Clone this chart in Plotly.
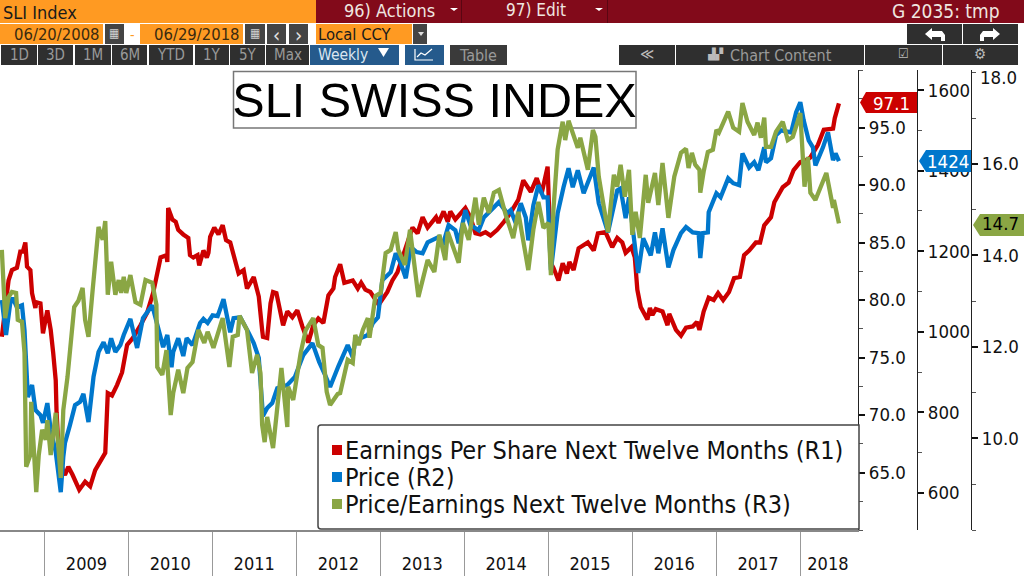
import pandas as pd
import plotly.graph_objects as go

eps_years = [2008.49,2008.54,2008.57,2008.61,2008.67,2008.71,2008.74,2008.77,2008.79,2008.83,2008.85,2008.89,2008.90,2008.95,2008.98,
2009.03,2009.07,2009.10,2009.13,2009.14,2009.16,2009.19,2009.22,2009.24,2009.28,2009.33,2009.41,2009.48,2009.54,2009.60,2009.72,2009.75,2009.80,2009.86,2009.92,2009.98,
2010.05,2010.14,2010.22,2010.29,2010.38,2010.45,2010.46,2010.47,2010.52,2010.56,2010.59,2010.65,2010.71,2010.73,2010.77,2010.82,2010.84,2010.89,2010.93,2010.95,2010.97,
2011.02,2011.07,2011.12,2011.16,2011.21,2011.25,2011.31,2011.37,2011.41,2011.49,2011.55,2011.59,2011.60,2011.65,2011.69,2011.72,2011.76,2011.84,2011.89,2011.95,
2012.01,2012.07,2012.14,2012.20,2012.26,2012.32,2012.38,2012.44,2012.46,2012.52,2012.57,2012.67,2012.73,2012.77,2012.82,2012.88,2012.92,2012.98,
2013.08,2013.14,2013.20,2013.27,2013.33,2013.38,2013.44,2013.50,2013.56,2013.66,2013.69,2013.75,2013.80,2013.83,2013.89,
2014.01,2014.07,2014.13,2014.19,2014.25,2014.31,2014.39,2014.47,2014.55,2014.64,2014.70,2014.79,2014.86,2014.92,2014.99,
2015.00,2015.03,2015.06,2015.12,2015.17,2015.22,2015.25,2015.30,2015.36,2015.47,2015.54,2015.59,2015.68,2015.76,2015.82,2015.88,2015.92,2015.99,
2016.03,2016.06,2016.10,2016.18,2016.21,2016.24,2016.28,2016.36,2016.42,2016.44,2016.52,2016.58,2016.64,2016.72,2016.77,2016.80,2016.85,2016.91,2016.97,
2017.02,2017.08,2017.15,2017.21,2017.28,2017.33,2017.39,2017.47,2017.52,2017.57,2017.65,2017.69,2017.79,2017.86,2017.92,
2018.00,2018.08,2018.12,2018.21,2018.28,2018.39,2018.41,2018.46]
eps_values = [76.8,80.0,81.7,82.6,82.8,84.2,84.2,85.0,82.9,82.6,80.6,79.3,79.8,79.7,77.1,
79.1,77.4,75.4,73.0,70.2,67.6,66.1,65.0,64.8,65.5,64.8,63.5,64.2,63.8,65.2,66.7,71.9,71.7,72.6,73.7,76.1,
76.7,77.8,78.9,80.6,83.7,83.9,83.3,88.0,87.0,86.8,86.1,85.7,85.4,83.9,83.7,83.9,83.0,84.3,83.7,84.1,85.5,
86.3,85.7,86.5,85.2,85.0,83.9,82.3,82.6,81.0,82.0,80.3,77.4,76.8,76.7,79.7,80.7,80.6,77.8,79.0,78.5,
79.1,77.7,76.3,77.8,78.4,78.0,80.4,81.0,82.0,83.1,81.5,81.7,81.0,81.5,80.9,80.7,80.2,79.6,
80.7,81.7,82.4,83.9,85.2,86.3,85.8,87.2,86.3,87.2,86.7,87.7,86.8,87.7,87.0,
88.0,87.2,85.8,85.7,85.9,85.6,86.1,86.8,87.6,88.7,90.4,89.4,90.6,89.3,91.6,
89.6,83.2,82.8,81.7,83.2,82.3,83.3,82.6,84.5,85.0,84.3,85.8,85.9,84.6,85.4,85.0,84.1,84.6,
83.7,80.9,79.4,78.3,79.3,78.7,79.2,79.0,77.8,78.8,77.4,76.9,77.6,77.7,78.1,77.4,79.0,80.2,80.0,
80.6,80.0,80.7,81.9,82.0,83.9,84.3,85.0,85.0,86.5,87.2,88.5,89.8,90.2,91.3,
92.0,92.2,92.4,93.5,94.8,94.9,95.8,97.1]

price_years = [2008.49,2008.54,2008.59,2008.62,2008.67,2008.73,2008.76,2008.79,2008.80,2008.85,2008.89,2008.95,2008.98,
2009.03,2009.07,2009.13,2009.16,2009.19,2009.22,2009.24,2009.30,2009.36,2009.42,2009.46,2009.52,2009.58,2009.64,2009.70,2009.75,2009.79,2009.84,2009.90,2009.94,
2010.02,2010.10,2010.17,2010.28,2010.34,2010.38,2010.41,2010.46,2010.51,2010.53,2010.59,2010.65,2010.69,2010.76,2010.85,2010.89,2010.94,
2011.00,2011.06,2011.13,2011.21,2011.25,2011.33,2011.43,2011.49,2011.55,2011.57,2011.60,2011.65,2011.71,2011.77,2011.89,2011.98,
2012.08,2012.19,2012.27,2012.34,2012.40,2012.50,2012.61,2012.67,2012.70,2012.85,2012.91,2012.97,
2013.02,2013.12,2013.18,2013.24,2013.30,2013.36,2013.43,2013.50,2013.56,2013.69,2013.74,2013.81,2013.89,2013.93,
2014.01,2014.07,2014.17,2014.23,2014.35,2014.41,2014.51,2014.55,2014.61,2014.67,2014.73,2014.76,2014.82,2014.88,2014.94,2014.99,
2015.03,2015.06,2015.11,2015.18,2015.24,2015.29,2015.35,2015.42,2015.54,2015.60,2015.66,2015.71,2015.76,2015.82,2015.86,2015.92,2015.96,
2016.02,2016.07,2016.13,2016.22,2016.27,2016.31,2016.36,2016.43,2016.49,2016.58,2016.64,2016.72,2016.79,2016.81,2016.84,2016.90,2016.91,
2017.00,2017.05,2017.14,2017.20,2017.27,2017.31,2017.39,2017.45,2017.50,2017.57,2017.59,2017.65,2017.71,2017.77,2017.89,2017.95,
2018.00,2018.04,2018.10,2018.15,2018.18,2018.27,2018.33,2018.39,2018.42,2018.46]
price_values = [1079,992,1071,1084,1061,1066,1004,905,838,868,806,793,774,
823,756,702,657,602,689,724,769,818,826,846,776,888,950,974,947,984,950,967,992,
1032,960,1034,1066,1017,987,962,992,912,950,984,940,984,967,1022,1032,1022,
1041,1039,1081,999,1034,1036,997,972,935,868,791,811,823,860,868,888,
942,972,925,893,863,915,967,937,979,992,1022,1036,
1128,1148,1195,1170,1133,1210,1198,1195,1222,1235,1215,1265,1252,1220,
1302,1265,1252,1284,1309,1322,1294,1302,1270,1319,1284,1227,1314,1364,1334,1334,
1153,1215,1294,1359,1406,1359,1401,1344,1408,1319,1284,1247,1294,1351,1356,1282,1334,
1220,1146,1232,1190,1247,1195,1257,1160,1203,1245,1260,1247,1245,1183,1245,1247,1297,
1344,1334,1381,1369,1364,1443,1408,1421,1401,1458,1421,1431,1488,1500,1495,1545,
1570,1525,1475,1458,1413,1458,1495,1426,1443,1424]

pe_years = [2008.49,2008.53,2008.57,2008.61,2008.66,2008.68,2008.73,2008.76,2008.78,2008.83,2008.84,2008.90,2008.93,2008.97,
2009.01,2009.03,2009.07,2009.13,2009.19,2009.22,2009.27,2009.30,2009.35,2009.40,2009.45,2009.48,2009.52,2009.57,2009.60,2009.64,2009.69,2009.72,2009.75,2009.79,2009.84,2009.88,2009.91,2009.94,2009.97,
2010.02,2010.08,2010.14,2010.20,2010.28,2010.33,2010.34,2010.40,2010.45,2010.50,2010.53,2010.59,2010.65,2010.70,2010.76,2010.83,2010.90,2010.94,
2011.01,2011.12,2011.20,2011.24,2011.30,2011.32,2011.41,2011.47,2011.53,2011.57,2011.59,2011.62,2011.65,2011.72,2011.82,2011.89,2011.90,2011.96,
2012.05,2012.11,2012.20,2012.26,2012.31,2012.36,2012.40,2012.49,2012.52,2012.61,2012.67,2012.70,2012.74,2012.79,2012.85,2012.87,2012.94,
2013.00,2013.06,2013.12,2013.18,2013.21,2013.29,2013.35,2013.45,2013.56,2013.64,2013.70,2013.77,2013.80,2013.93,2013.98,
2014.05,2014.13,2014.17,2014.23,2014.29,2014.35,2014.41,2014.49,2014.58,2014.64,2014.76,2014.82,2014.88,2014.94,
2015.00,2015.03,2015.06,2015.11,2015.17,2015.20,2015.24,2015.35,2015.38,2015.47,2015.53,2015.56,2015.60,2015.65,2015.71,2015.78,2015.82,2015.86,2015.91,2015.96,
2016.00,2016.04,2016.09,2016.16,2016.19,2016.27,2016.31,2016.36,2016.43,2016.50,2016.58,2016.64,2016.67,2016.71,2016.75,2016.80,2016.81,2016.85,2016.90,2016.96,
2017.00,2017.03,2017.14,2017.20,2017.27,2017.31,2017.37,2017.45,2017.49,2017.53,2017.57,2017.59,2017.65,2017.71,2017.79,2017.85,2017.91,
2018.00,2018.05,2018.09,2018.12,2018.18,2018.24,2018.31,2018.39,2018.40,2018.46]
pe_values = [14.12,12.63,13.09,13.20,13.18,12.59,12.55,11.87,9.38,9.64,10.80,8.83,9.64,10.19,
9.97,10.40,9.64,10.56,9.14,10.62,11.34,11.89,12.87,13.01,13.29,12.59,12.22,13.25,13.95,14.62,14.34,14.75,13.14,13.86,13.14,13.46,13.18,13.53,13.18,
13.57,12.98,12.92,13.46,13.40,12.92,11.56,11.39,11.93,10.51,10.99,11.50,10.99,11.54,11.67,12.37,12.09,12.33,
11.98,12.63,11.56,12.22,12.26,12.68,12.37,11.43,11.83,11.43,10.30,9.92,10.47,9.79,11.54,10.25,11.13,10.84,
11.87,12.37,12.63,12.04,11.98,11.02,10.73,10.97,10.99,11.72,11.65,12.26,12.04,12.37,12.63,12.20,13.11,
13.18,14.05,14.12,14.51,14.12,13.79,14.56,13.09,13.90,13.64,14.45,13.90,14.51,13.84,14.71,
14.34,15.26,14.67,15.26,14.93,15.37,15.43,14.89,14.38,14.95,13.68,14.56,15.17,14.60,
14.71,13.57,15.00,16.31,16.92,16.52,16.94,16.35,16.57,15.87,16.74,16.59,15.72,15.17,14.51,15.76,15.50,15.98,15.28,15.87,
14.45,14.95,14.38,15.76,15.15,15.80,15.10,16.02,14.82,15.72,16.24,16.33,15.91,16.24,15.98,15.87,15.37,15.83,16.26,16.31,
16.74,16.68,17.14,16.79,16.70,17.33,16.92,16.63,16.90,16.57,17.01,16.37,16.37,16.70,16.92,16.52,16.59,
17.11,15.50,16.15,15.37,15.21,15.50,15.80,15.04,15.21,14.70]

year_labels = ["2009","2010","2011","2012","2013","2014","2015","2016","2017","2018"]
year_mids = ["2009-07-01","2010-07-01","2011-07-01","2012-07-01","2013-07-01","2014-07-01","2015-07-01","2016-07-01","2017-07-01","2018-05-01"]
r1_ticks = [65,70,75,80,85,90,95]
r2_ticks = [600,800,1000,1200,1400,1600]
r3_ticks = [10,12,14,16]
series_names = ["Earnings Per Share Next Twelve Months (R1)","Price (R2)","Price/Earnings Next Twelve Months (R3)"]

W, H = 1024, 580
RED, BLUE, GREEN = "#cc0000", "#0077cc", "#8aa644"
ORANGE, MAROON, DARK = "#ff9a22", "#820a1a", "#2f2f2f"
COND = "DejaVu Sans Condensed"

def to_dates(years):
    return [pd.Timestamp(year=int(v), month=1, day=1) + pd.Timedelta(days=(v - int(v)) * 365.25) for v in years]
def px(x): return x / W
def py(y): return 1 - y / H

shapes, annos = [], []
def rect(x0, y0, x1, y1, fill, line=None, lw=1, layer="above"):
    shapes.append(dict(type="rect", xref="paper", yref="paper", x0=px(x0), x1=px(x1), y0=py(y0), y1=py(y1),
                       fillcolor=fill, line=dict(color=line or fill, width=lw if line else 0), layer=layer))
def text(x, y, s, size=16, color="#000000", anchor="center", font=COND):
    annos.append(dict(xref="paper", yref="paper", x=px(x), y=py(y), text=s, showarrow=False, xanchor=anchor,
                      yanchor="middle", font=dict(size=size, color=color, family=font), borderpad=0))
def poly(points, fill):
    path = "M " + " L ".join(f"{px(a):.5f},{py(b):.5f}" for a, b in points) + " Z"
    shapes.append(dict(type="path", xref="paper", yref="paper", path=path, fillcolor=fill, line=dict(width=0), layer="above"))
def polyline(points, color, w=1.2):
    path = "M " + " L ".join(f"{px(a):.5f},{py(b):.5f}" for a, b in points)
    shapes.append(dict(type="path", xref="paper", yref="paper", path=path, line=dict(color=color, width=w), layer="above"))

# top bar
rect(0, 0, 316, 23, ORANGE)
rect(316, 0, 1024, 23, MAROON)
rect(461, 0, 462, 23, "#5a0612")
rect(607, 0, 608, 23, "#5a0612")
text(2, 12, "SLI Index", 18, "#1a1a1a", "left")
text(436, 10, "96) Actions", 18, "#f0e6e0", "right")
text(567, 10, "97) Edit", 17, "#f0e6e0", "right")
text(1001, 11, "G 2035: tmp", 19, "#f0e6e0", "right")
poly([(450,8),(458,8),(454,11)], "#ffffff")
poly([(595,8),(603,8),(599,11)], "#ffffff")

# second row
rect(0, 24, 103, 44, ORANGE)
rect(105, 24, 124, 44, "#444444")
rect(140, 24, 243, 44, ORANGE)
rect(245, 24, 265, 44, "#444444")
rect(267, 24, 286, 44, "#444444")
rect(289, 24, 308, 44, "#444444")
rect(316, 24, 412, 44, ORANGE)
rect(413, 24, 427, 44, "#444444")
rect(907, 24, 962, 44, DARK)
rect(963, 24, 1018, 44, DARK)
text(101, 34, "06/20/2008", 16.5, "#3a2a10", "right")
text(132, 35, "-", 14, ORANGE)
text(241, 34, "06/29/2018", 16.5, "#3a2a10", "right")
text(114, 33, "▦", 12, "#d0d0d0")
text(255, 33, "▦", 12, "#d0d0d0")
text(276, 35, "‹", 20, "#e0e0e0")
text(298, 35, "›", 20, "#e0e0e0")
text(317, 34, "Local CCY", 16.5, "#1a1a1a", "left")
poly([(418,32),(424,32),(421,36)], "#dddddd")
poly([(925,34),(932,28),(932,31),(942,31),(945,35),(945,41),(941,41),(941,37),(932,37),(932,40)], "#ffffff")
poly([(1000,34),(993,28),(993,31),(983,31),(980,35),(980,41),(984,41),(984,37),(993,37),(993,40)], "#ffffff")

# third row
for x0, x1, lab in [(1,37,"1D"),(38,73,"3D"),(75,111,"1M"),(112,147,"6M"),(149,193,"YTD"),(195,229,"1Y"),(230,265,"5Y"),(266,309,"Max")]:
    rect(x0, 45, x1, 65, DARK)
    text((x0 + x1) / 2, 55, lab, 15, "#9a9a9a")
rect(310, 45, 399, 65, "#255a8c")
text(317, 55, "Weekly", 15.5, "#dce6f0", "left")
poly([(378,48),(389,48),(383.5,57)], "#ffffff")
rect(405, 45, 444, 65, "#255a8c")
polyline([(415,49),(415,60),(433,60)], "#ffffff")
polyline([(417,57),(421,53),(425,55),(432,49)], "#ffffff")
rect(450, 45, 507, 65, "#3a3a3a")
text(478, 55, "Table", 16, "#9a9a9a")
rect(619, 45, 675, 65, DARK)
text(647, 54, "≪", 15, "#bbbbbb")
rect(676, 45, 864, 65, DARK)
text(716, 54, "▟▞", 11, "#bbbbbb")
text(781, 55, "Chart Content", 16, "#9a9a9a")
rect(865, 45, 942, 65, DARK)
text(903, 54, "☑", 13, "#bbbbbb")
rect(943, 45, 1018, 65, DARK)
text(980, 54, "⚙", 15, "#bbbbbb")

# title box, under the lines
rect(233.5, 71.5, 636, 128, "#ffffff", "#777777", 1.5, layer="below")

# legend box
shapes.append(dict(type="path", xref="paper", yref="paper", layer="above",
    path=(f"M {px(318)},{py(428)} Q {px(318)},{py(425)} {px(321)},{py(425)} L {px(859)},{py(425)} "
          f"L {px(859)},{py(529)} L {px(321)},{py(529)} Q {px(318)},{py(529)} {px(318)},{py(526)} Z"),
    fillcolor="#ffffff", line=dict(color="#444444", width=1.5)))
for ly, col, name in zip([450, 477, 504], [RED, BLUE, GREEN], series_names):
    rect(332, ly - 5, 342, ly + 5, col)
    text(344, ly, name, 25, "#111111", "left")

# value tags at the ends of the axes
poly([(860,102.5),(866,92),(917,92),(917,113),(866,113)], RED)
poly([(919,161),(926,150),(971,150),(971,172),(926,172)], BLUE)
poly([(973,225),(980,214),(1024,214),(1024,236),(980,236)], GREEN)
annos.append(dict(xref="paper", yref="y", x=px(891), y=eps_values[-1], xanchor="center", yanchor="middle",
                  text=f"{eps_values[-1]:.1f}", showarrow=False, font=dict(size=18.5, color="#ffffff", family=COND)))
annos.append(dict(xref="paper", yref="y2", x=px(948), y=price_values[-1], xanchor="center", yanchor="middle",
                  text=f"{price_values[-1]}", showarrow=False, font=dict(size=18.5, color="#ffffff", family=COND)))
annos.append(dict(xref="paper", yref="y3", x=px(1000), y=pe_values[-1], xanchor="center", yanchor="middle",
                  text=f"{pe_values[-1]:.1f}", showarrow=False, font=dict(size=18.5, color="#000000", family=COND)))
text(979, 77, "18.0", 18.5, "#111111", "left")

fig = go.Figure()
fig.add_trace(go.Scatter(x=to_dates(eps_years), y=eps_values, name=series_names[0], mode="lines",
                         line=dict(color=RED, width=4.3), yaxis="y"))
fig.add_trace(go.Scatter(x=to_dates(price_years), y=price_values, name=series_names[1], mode="lines",
                         line=dict(color=BLUE, width=4.3), yaxis="y2"))
fig.add_trace(go.Scatter(x=to_dates(pe_years), y=pe_values, name=series_names[2], mode="lines",
                         line=dict(color=GREEN, width=4.3), yaxis="y3"))

tickfont = dict(size=18.5, color="#111111", family=COND)
def yaxis(lo, hi, ticks, fmt, minor_start, minor_step, **kw):
    return dict(range=[lo, hi], domain=[py(530), py(70)], side="right", showgrid=False, zeroline=False,
                showline=True, linecolor="#222222", linewidth=1.2, tickmode="array", tickvals=ticks,
                tickformat=fmt, ticks="outside", ticklen=6, tickwidth=1.5, tickcolor="#111111", tickfont=tickfont,
                automargin=False,
                minor=dict(tickmode="linear", tick0=minor_start, dtick=minor_step, ticks="outside",
                           ticklen=4, tickwidth=1, tickcolor="#555555", showgrid=False), **kw)

fig.update_layout(
    width=W, height=H, margin=dict(l=0, r=0, t=0, b=0, autoexpand=False), showlegend=False,
    paper_bgcolor="#ffffff", plot_bgcolor="rgba(0,0,0,0)",
    title=dict(text="SLI SWISS INDEX", x=434.5 / W, xanchor="center", y=py(100), yanchor="middle", yref="container",
               font=dict(size=48.5, color="#000000", family="Liberation Sans")),
    xaxis=dict(type="date", domain=[0, px(858)], range=["2008-06-20", "2018-09-09"], showgrid=False, zeroline=False,
               showline=True, linecolor="#888888", linewidth=2, tickmode="array", tickvals=year_mids,
               ticktext=year_labels, ticks="", tickfont=dict(size=18, color="#111111", family=COND),
               ticklabelstandoff=16, automargin=False,
               minor=dict(tickmode="linear", tick0="2009-01-01", dtick="M12", ticks="outside", ticklen=44, tickwidth=1,
                          tickcolor="#999999", showgrid=False)),
    yaxis=yaxis(60, 100, r1_ticks, ".1f", 60, 2.5),
    yaxis2=yaxis(508, 1650, r2_ticks, "d", 600, 100, overlaying="y", anchor="free", position=px(917)),
    yaxis3=yaxis(8, 18.05, r3_ticks, ".1f", 8, 1, overlaying="y", anchor="free", position=px(971)),
    shapes=shapes, annotations=annos,
)
fig.write_html("out.html", config=dict(displayModeBar=False),
               post_script="document.body.style.margin='0';document.documentElement.style.overflow='hidden';")
